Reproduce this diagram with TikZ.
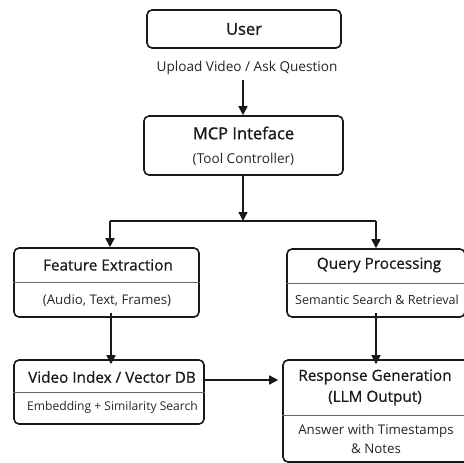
\documentclass[tikz,border=0pt]{standalone}
\usepackage{fontspec}
\setmainfont{Open Sans}
\newfontfamily\medfont[FakeBold=1.2]{Open Sans}
\newfontfamily\semifont[FakeBold=0.5]{Open Sans}
\usetikzlibrary{arrows.meta}
\begin{document}
\begin{tikzpicture}[x=1pt,y=-1pt,
  box/.style={draw=black!90, line width=1.6pt, rounded corners=5pt, inner sep=0pt},
  bigtitle/.style={font=\medfont\fontsize{16.5}{18}\selectfont, text=black!90},
  title/.style={font=\semifont\fontsize{15.3}{21}\selectfont, text=black!90},
  sub/.style={font=\fontsize{13.3}{19}\selectfont, text=black!85},
  divider/.style={draw=black!60, line width=1pt},
  conn/.style={draw=black!90, line width=1.6pt},
  arr/.style={conn, -{Triangle[length=9pt,width=9pt]}}]
\useasboundingbox[fill=white] (0,0) rectangle (463,463);

% User
\node[box, minimum width=194pt, minimum height=38pt] (user) at (244,29) {};
\node[bigtitle] (usert) at (244,29) {User};
\node[sub, font=\fontsize{13.6}{16}\selectfont] (upl) at (247,68) {Upload Video / Ask Question};

% MCP
\node[box, minimum width=199pt, minimum height=59pt] (mcp) at (243.5,145.5) {};
\node[bigtitle] (mcpt) at (243.5,133) {MCP Inteface};
\node[sub, font=\fontsize{13.6}{16}\selectfont] (mcps) at (243.5,159) {(Tool Controller)};

% Feature Extraction
\node[box, minimum width=185pt, minimum height=69pt] (fe) at (106.5,282.5) {};
\node[title] (fet) at (108,265) {Feature Extraction};
\node[sub] (fes) at (107,300) {(Audio, Text, Frames)};
\coordinate (fed) at (0,282);
\draw[divider] (fe.west |- fed) -- (fe.east |- fed);

% Query Processing
\node[box, minimum width=178pt, minimum height=68pt] (qp) at (376,283) {};
\node[title] (qpt) at (379,265) {Query Processing};
\node[sub, font=\fontsize{12.6}{15}\selectfont] (qps) at (377,300) {Semantic Search \& Retrieval};
\coordinate (qpd) at (0,283);
\draw[divider] (qp.west |- qpd) -- (qp.east |- qpd);

% Video Index
\node[box, minimum width=190pt, minimum height=64pt] (vi) at (109,392) {};
\node[title] (vit) at (112,377) {Video Index / Vector DB};
\node[sub, font=\fontsize{12.1}{14}\selectfont] (vis) at (112.5,407) {Embedding + Similarity Search};
\coordinate (vid) at (0,392);
\draw[divider] (vi.west |- vid) -- (vi.east |- vid);

% Response Generation
\node[box, minimum width=186pt, minimum height=102pt] (rg) at (376,411) {};
\node[title, align=center] (rgt) at (375,387.5) {Response Generation\\(LLM Output)};
\node[sub, align=center] (rgs) at (376,439.5) {Answer with Timestamps\\\& Notes};
\coordinate (rgd) at (0,415);
\draw[divider] (rg.west |- rgd) -- (rg.east |- rgd);

% connectors
\coordinate (uplb) at (243,80);
\coordinate (junc) at (243,221);
\coordinate (jl) at (110,221);
\coordinate (jr) at (376,221);
\draw[arr] (uplb) -- (mcp.north -| uplb);
\draw[arr] (mcp.south -| junc) -- (junc);
\draw[conn] (jl) -- (jr);
\draw[arr] (jl) -- (fe.north -| jl);
\draw[arr] (jr) -- (qp.north -| jr);
\coordinate (fex) at (111,0);
\draw[arr] ([yshift=5pt]fe.south -| fex) -- ([yshift=-5pt]vi.north -| fex);
\draw[arr] ([yshift=5pt]qp.south) -- ([yshift=-5pt]rg.north);
\coordinate (vy) at (0,380);
\draw[arr] (vi.east |- vy) -- ([xshift=-4pt]rg.west |- vy);
\end{tikzpicture}
\end{document}
